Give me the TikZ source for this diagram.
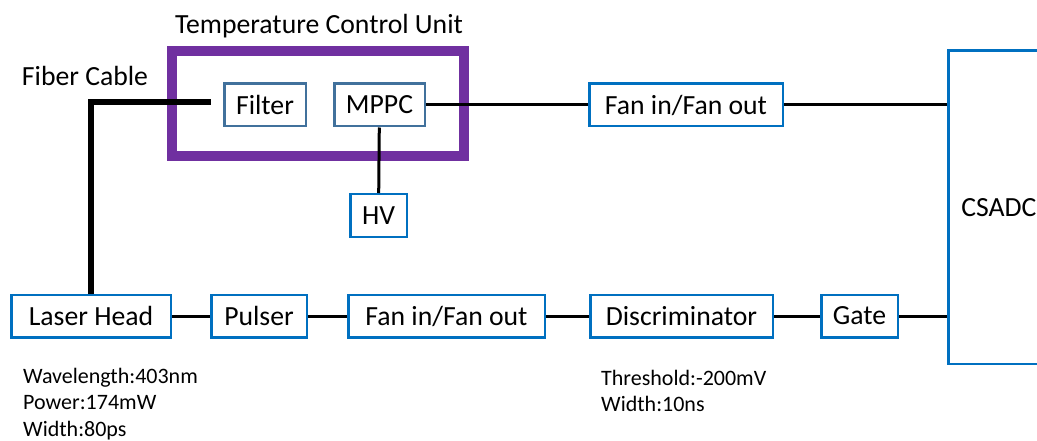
\documentclass[tikz,border=0pt]{standalone}
\usepackage{fontspec}
\setmainfont{Carlito}
\definecolor{boxblue}{HTML}{0070C0}
\definecolor{steelb}{HTML}{41719C}
\definecolor{tcupurple}{HTML}{7030A0}
\begin{document}
\begin{tikzpicture}[x=1pt,y=-1pt,
  bbox/.style={draw=boxblue, line width=2.5pt, fill=white, inner sep=0pt,
    minimum height=42.5pt, font=\fontsize{27.7}{33}\selectfont},
  sbox/.style={bbox, draw=steelb},
  wire/.style={line width=3pt, black},
  fiber/.style={line width=6pt, black},
  note/.style={inner sep=0pt, align=left, anchor=west, font=\fontsize{22}{26.5}\selectfont},
  lbl/.style={inner sep=0pt, font=\fontsize{27.7}{33}\selectfont}]
\useasboundingbox (0,0) rectangle (1037,441);
% temperature control unit
\node[draw=tcupurple, line width=10pt, minimum width=292pt, minimum height=105pt, inner sep=0pt] (tcu) at (318,104) {};
\node[lbl] (tcutitle) at (319,26) {Temperature Control Unit};
\node[lbl] (fibertitle) at (85,76) {Fiber Cable};
% top row
\node[sbox, minimum width=81.5pt] (filter) at (265,105) {Filter};
\node[sbox, minimum width=90.5pt] (mppc) at (379.5,105) {MPPC};
\node[bbox, minimum width=56.5pt] (hv) at (378.5,215.5) {HV};
\node[bbox, minimum width=193.5pt] (fan1) at (686,105) {Fan in/Fan out};
% CSADC
\node[bbox, anchor=north west, minimum height=313pt, text width=100pt, align=left, inner xsep=13pt] (csadc) at (947,49.5) {CSADC};
% bottom row
\node[bbox, minimum width=159.5pt] (laser) at (91,316) {Laser Head};
\node[bbox, minimum width=95.5pt] (pulser) at (259,316) {Pulser};
\node[bbox, minimum width=196.5pt] (fan2) at (446.5,316) {Fan in/Fan out};
\node[bbox, minimum width=182.5pt] (disc) at (681.5,316) {Discriminator};
\node[bbox, minimum width=76.5pt] (gate) at (859.5,316) {Gate};
% notes
\node[note] (lasernote) at (23,404) {Wavelength:403nm\\Power:174mW\\Width:80ps};
\node[note] (discnote) at (601,391) {Threshold:-200mV\\Width:10ns};
% fiber
\coordinate (fiberend) at (211,102);
\draw[fiber] (laser.north) |- (fiberend);
% wires
\draw[wire] (mppc) -- (hv);
\draw[wire] (mppc) -- (fan1);
\draw[wire] (fan1.east) -- (fan1.east -| csadc.west);
\draw[wire] (laser) -- (pulser);
\draw[wire] (pulser) -- (fan2);
\draw[wire] (fan2) -- (disc);
\draw[wire] (disc) -- (gate);
\draw[wire] (gate.east) -- (gate.east -| csadc.west);
\end{tikzpicture}
\end{document}
